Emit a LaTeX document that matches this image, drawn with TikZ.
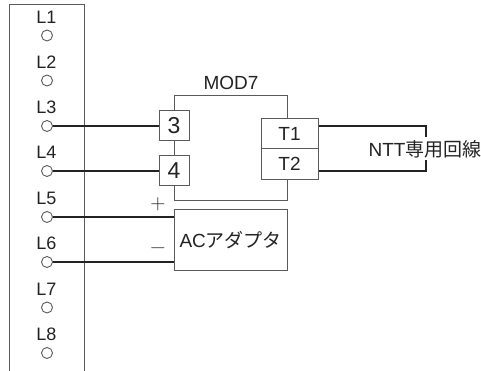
\documentclass[tikz,border=0pt]{standalone}
\usepackage{fontspec}
\setmainfont{Liberation Sans}
\newfontfamily\cjk{Noto Sans CJK JP}
\newfontfamily\lmr{Latin Modern Roman}
\definecolor{ink}{RGB}{35,35,35}
\definecolor{frame}{RGB}{90,90,90}
\tikzset{x=1pt,y=-1pt,
 lbl/.style={text=ink,inner sep=0pt,font=\fontsize{18}{20}\selectfont},
 term/.style={draw=frame,line width=0.9pt,circle,minimum size=11pt,inner sep=0pt,fill=white},
 boxline/.style={draw=frame,line width=1pt},
 wire/.style={draw=ink,line width=1.1pt},
 wireb/.style={draw=ink,line width=1.4pt},
 txt/.style={text=ink,inner sep=0pt,font=\fontsize{19}{21}\selectfont},
 sign/.style={text=ink,inner sep=0pt,font=\lmr\fontsize{21}{23}\selectfont},
 num/.style={draw=frame,line width=1pt,fill=white,text=ink,inner sep=0pt,minimum size=30pt,font=\fontsize{23}{25}\selectfont},
 tbox/.style={draw=frame,line width=1pt,fill=white,text=ink,inner sep=0pt,minimum width=57pt,minimum height=30.5pt,font=\fontsize{19}{21}\selectfont}}
\begin{document}
\begin{tikzpicture}
\useasboundingbox (0,0) rectangle (481,371);
\fill[white] (0,0) rectangle (481,371);
\draw[boxline] (9,371) -- (9,5) -- (84.5,5) -- (84.5,371);
\foreach \n/\y in {1/35.5,2/80.5,3/126,4/171,5/217,6/262,7/307.5,8/353}{
 \node[term] (t\n) at (47,\y) {};
 \node[lbl] (l\n) at (46.5,\y-18.5) {L\n};
}
\node[txt] (mod) at (231,83) {MOD7};
\coordinate (mtl) at (174,96);
\coordinate (mtr) at (287.5,96);
\coordinate (mbl) at (174,201);
\coordinate (mbr) at (287.5,201);
\draw[boxline] (mtl) -- (mtr) -- (mbr) -- (mbl) -- cycle;
\node[num] (n3) at (174,126) {3};
\node[num] (n4) at (174,171) {4};
\node[tbox] (a1) at (289.5,133.75) {T1};
\node[tbox] (a2) at (289.5,164.25) {T2};
\node[draw=frame,line width=1pt,fill=white,text=ink,inner sep=0pt,minimum width=113.5pt,minimum height=60.5pt,font=\fontsize{19}{21}\selectfont] (ac) at (230.75,239.75) {AC\cjk アダプタ};
\coordinate (c1) at (426,126);
\coordinate (c1b) at (426,137);
\coordinate (c2) at (426,171);
\coordinate (c2b) at (426,160);
\draw[wireb] (t3) -- (n3);
\draw[wire] (t4) -- (n4);
\draw[wireb] (t5) -- (ac.west |- t5);
\draw[wire] (t6) -- (ac.west |- t6);
\draw[wire] (a1.east |- c1) -- (c1) -- (c1b);
\draw[wire] (a2.east |- c2) -- (c2) -- (c2b);
\node[txt] (ntt) at (425,149) {NTT\cjk 専用回線};
\node[sign] (plus) at (158,204) {+};
\node[sign] (minus) at (158,251) {−};
\end{tikzpicture}
\end{document}
